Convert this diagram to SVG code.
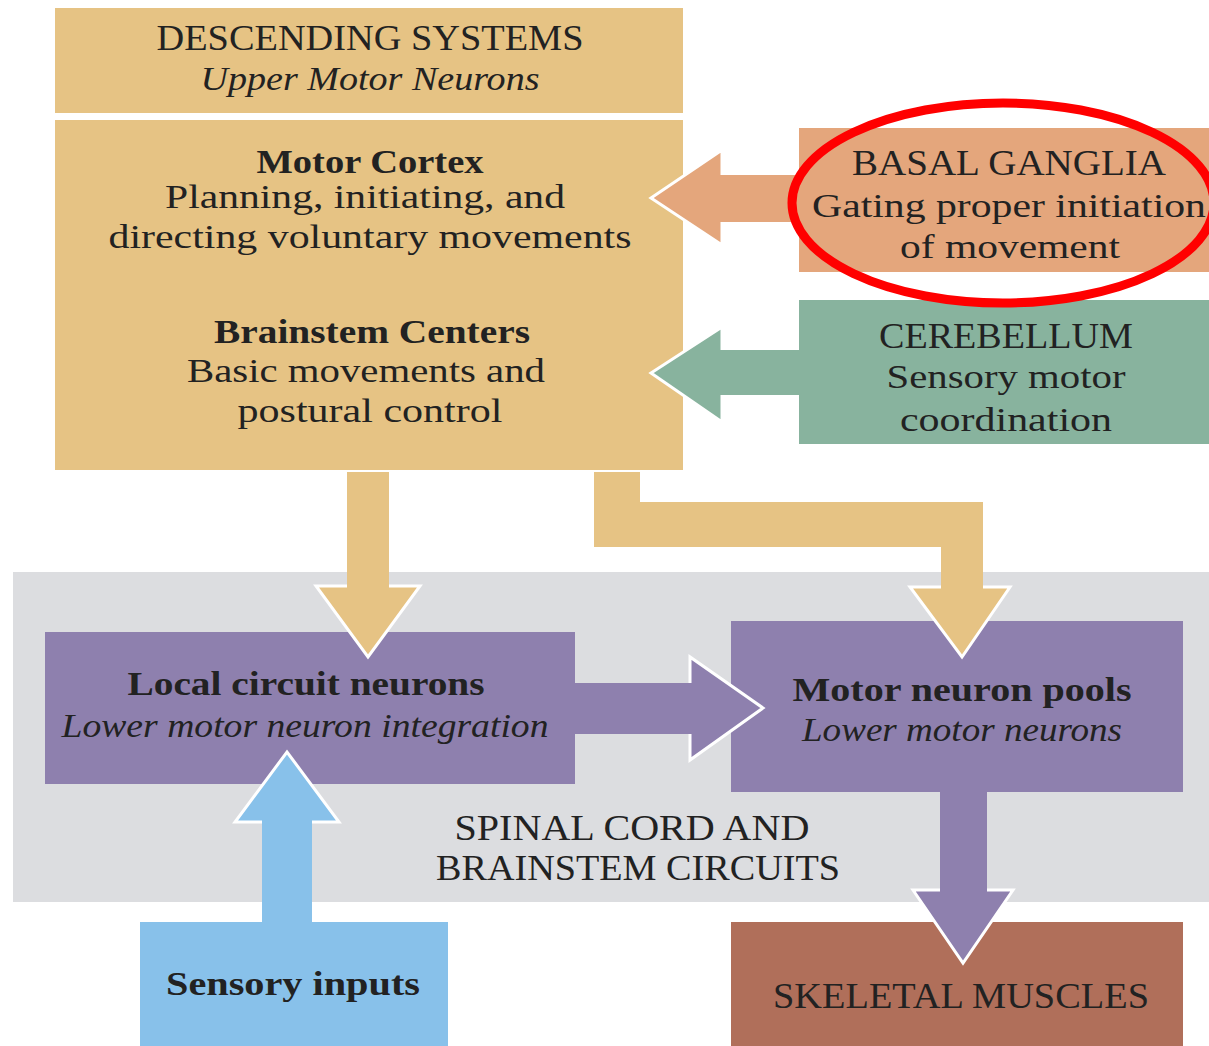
<svg xmlns="http://www.w3.org/2000/svg" width="1209" height="1046" viewBox="0 0 1209 1046">
<style>
text{font-family:"Liberation Serif","Times New Roman",serif;fill:#222;text-anchor:middle}
.cap{font-size:36px}
.t{font-size:33px}
.b{font-size:33px;font-weight:bold}
.i{font-size:33px;font-style:italic}
.edge{fill:none;stroke:#fff;stroke-width:3;stroke-linejoin:miter}
</style>
<rect x="0" y="0" width="1209" height="1046" fill="#fff"/>
<g id="spinal-region">
<rect x="13" y="572" width="1196" height="330" fill="#DCDDE0"/>
<text class="cap" x="632" y="840" textLength="355" lengthAdjust="spacingAndGlyphs">SPINAL CORD AND</text>
<text class="cap" x="638" y="880" textLength="404" lengthAdjust="spacingAndGlyphs">BRAINSTEM CIRCUITS</text>
</g>
<g id="descending-header">
<rect x="55" y="8" width="628" height="105" fill="#E6C384"/>
<text class="cap" x="370" y="50" textLength="427" lengthAdjust="spacingAndGlyphs">DESCENDING SYSTEMS</text>
<text class="i" x="370" y="90" textLength="339" lengthAdjust="spacingAndGlyphs">Upper Motor Neurons</text>
</g>
<g id="upper-motor">
<rect x="55" y="120" width="628" height="350" fill="#E6C384"/>
<text class="b" x="370" y="173" textLength="227" lengthAdjust="spacingAndGlyphs">Motor Cortex</text>
<text class="t" x="365" y="208" textLength="400" lengthAdjust="spacingAndGlyphs">Planning, initiating, and</text>
<text class="t" x="370" y="248" textLength="523" lengthAdjust="spacingAndGlyphs">directing voluntary movements</text>
<text class="b" x="372" y="343" textLength="316" lengthAdjust="spacingAndGlyphs">Brainstem Centers</text>
<text class="t" x="366" y="382" textLength="358" lengthAdjust="spacingAndGlyphs">Basic movements and</text>
<text class="t" x="370" y="422" textLength="265" lengthAdjust="spacingAndGlyphs">postural control</text>
</g>
<g id="basal-ganglia">
<rect x="799" y="128" width="410" height="144" fill="#E4A67C"/>
<text class="cap" x="1009" y="175" textLength="314" lengthAdjust="spacingAndGlyphs">BASAL GANGLIA</text>
<text class="t" x="1009" y="217" textLength="394" lengthAdjust="spacingAndGlyphs">Gating proper initiation</text>
<text class="t" x="1010" y="258" textLength="220" lengthAdjust="spacingAndGlyphs">of movement</text>
</g>
<g id="cerebellum">
<rect x="799" y="300" width="410" height="144" fill="#88B39E"/>
<text class="cap" x="1006" y="348" textLength="254" lengthAdjust="spacingAndGlyphs">CEREBELLUM</text>
<text class="t" x="1006" y="388" textLength="239" lengthAdjust="spacingAndGlyphs">Sensory motor</text>
<text class="t" x="1006" y="431" textLength="212" lengthAdjust="spacingAndGlyphs">coordination</text>
</g>
<g id="local-circuit">
<rect x="45" y="632" width="530" height="152" fill="#8E80AE"/>
<text class="b" x="306" y="695" textLength="357" lengthAdjust="spacingAndGlyphs">Local circuit neurons</text>
<text class="i" x="305" y="737" textLength="487" lengthAdjust="spacingAndGlyphs">Lower motor neuron integration</text>
</g>
<g id="motor-pools">
<rect x="731" y="621" width="452" height="171" fill="#8E80AE"/>
<text class="b" x="962" y="701" textLength="339" lengthAdjust="spacingAndGlyphs">Motor neuron pools</text>
<text class="i" x="962" y="741" textLength="320" lengthAdjust="spacingAndGlyphs">Lower motor neurons</text>
</g>
<g id="sensory-inputs">
<rect x="140" y="922" width="308" height="124" fill="#88C1EA"/>
<text class="b" x="293" y="995" textLength="254" lengthAdjust="spacingAndGlyphs">Sensory inputs</text>
</g>
<g id="skeletal-muscles">
<rect x="731" y="922" width="452" height="124" fill="#B06F5A"/>
<text class="cap" x="961" y="1008" textLength="376" lengthAdjust="spacingAndGlyphs">SKELETAL MUSCLES</text>
</g>
<g id="connectors">
<path d="M347 472 H389 V586 H420 L368 657 L316 586 H347 Z" fill="#E6C384"/>
<polyline class="edge" points="347,586 316,586 368,657 420,586 389,586"/>
<path d="M594 472 H640 V502 H983 V587 H1010 L962 657 L910 587 H941 V547 H594 Z" fill="#E6C384"/>
<polyline class="edge" points="941,587 910,587 962,657 1010,587 983,587"/>
<path d="M799 175 V222 H722 V245 L651 198 L722 150 V175 Z" fill="#E4A67C"/>
<polyline class="edge" points="722,175 722,150 651,198 722,245 722,222"/>
<path d="M799 350 V395 H722 V422 L651 373 L722 327 V350 Z" fill="#88B39E"/>
<polyline class="edge" points="722,350 722,327 651,373 722,422 722,395"/>
<path d="M574 683 H690 V657 L763 708 L690 760 V734 H574 Z" fill="#8E80AE"/>
<polyline class="edge" points="690,683 690,657 763,708 690,760 690,734"/>
<path d="M940 792 H987 V890 H1013 L963 963 L913 890 H940 Z" fill="#8E80AE"/>
<polyline class="edge" points="940,890 913,890 963,963 1013,890 987,890"/>
<path d="M262 922 V822 H235 L287 752 L339 822 H312 V922 Z" fill="#88C1EA"/>
<polyline class="edge" points="262,822 235,822 287,752 339,822 312,822"/>
</g>
<g id="highlight">
<ellipse cx="1003" cy="203" rx="211" ry="100" fill="none" stroke="#FF0000" stroke-width="9"/>
</g>
</svg>
